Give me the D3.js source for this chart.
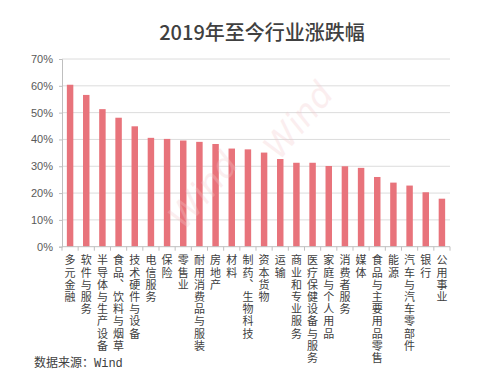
<!DOCTYPE html>
<html>
<head>
<meta charset="utf-8">
<script src="https://cdn.jsdelivr.net/npm/d3@7"></script>
<style>
  body { margin: 0; background: #fff; }
  svg { display: block; font-family: "Noto Sans CJK SC", "Noto Sans", sans-serif; }
</style>
</head>
<body>
<div id="chart"></div>
<script>
// dimensiones del grafico
const width = 500,
  height = 377;
const margin = { top: 59, right: 50, bottom: 130, left: 62 };
const innerWidth = width - margin.left - margin.right;
const innerHeight = 246.7 - margin.top;

// datos
const industries = [
  "多元金融", "软件与服务", "半导体与生产设备", "食品、饮料与烟草", "技术硬件与设备",
  "电信服务", "保险", "零售业", "耐用消费品与服装", "房地产", "材料",
  "制药、生物科技", "资本货物", "运输", "商业和专业服务", "医疗保健设备与服务",
  "家庭与个人用品", "消费者服务", "媒体", "食品与主要用品零售", "能源",
  "汽车与汽车零部件", "银行", "公用事业"
];
const changes = [
  60.4, 56.6, 51.3, 48.1, 44.9, 40.6, 40.2, 39.6, 39.1, 38.3, 36.6,
  36.3, 35.1, 32.7, 31.3, 31.3, 30.1, 30.0, 29.4, 26.0, 23.9, 22.8, 20.3, 17.9
];
const yTicks = [0, 10, 20, 30, 40, 50, 60, 70];

const data = industries.map((name, i) => ({ name: name, value: changes[i] }));

const svg = d3
  .select("#chart")
  .append("svg")
  .attr("width", width)
  .attr("height", height);

// titulo
svg
  .append("text")
  .attr("x", 262)
  .attr("y", 40)
  .attr("text-anchor", "middle")
  .attr("font-size", 20)
  .attr("font-weight", 500)
  .attr("fill", "#404040")
  .text("2019年至今行业涨跌幅");

const mainG = svg
  .append("g")
  .attr("transform", `translate(${margin.left},${margin.top})`);

const xScale = d3
  .scaleBand()
  .domain(industries)
  .range([0, innerWidth])
  .paddingInner(0.6)
  .paddingOuter(0.3);

const yScale = d3.scaleLinear().domain([0, 70]).range([innerHeight, 0]);

// lineas de cuadricula
mainG
  .append("g")
  .selectAll("line")
  .data(yTicks.slice(1))
  .enter()
  .append("line")
  .attr("x1", 0)
  .attr("x2", innerWidth)
  .attr("y1", (d) => yScale(d))
  .attr("y2", (d) => yScale(d))
  .attr("stroke", "#dcdcdc")
  .attr("stroke-width", 1);

// marca de agua
[[205, 192], [300, 122]].forEach((p) => {
  svg
    .append("text")
    .attr("transform", `translate(${p[0]},${p[1]}) rotate(-50)`)
    .attr("text-anchor", "middle")
    .attr("dominant-baseline", "middle")
    .attr("font-size", 34)
    .attr("font-style", "italic")
    .attr("font-family", "DejaVu Sans")
    .attr("fill", "#f3c9cc")
    .attr("opacity", 0.3)
    .text("Wind");
});

// barras
mainG
  .append("g")
  .selectAll("rect")
  .data(data)
  .enter()
  .append("rect")
  .attr("x", (d) => xScale(d.name))
  .attr("y", (d) => yScale(d.value))
  .attr("width", xScale.bandwidth())
  .attr("height", (d) => innerHeight - yScale(d.value))
  .attr("fill", "#e8737b");

// eje Y
const yAxis = d3
  .axisLeft(yScale)
  .tickValues(yTicks)
  .tickFormat((d) => d + "%")
  .tickSize(3)
  .tickPadding(6);

const yG = mainG.append("g").call(yAxis);
yG.select(".domain").attr("stroke", "#bfbfbf");
yG.selectAll(".tick line").attr("stroke", "#bfbfbf");
yG.selectAll("text")
  .attr("font-size", 11)
  .attr("fill", "#595959")
  .attr("font-family", "Liberation Sans, Arial, sans-serif");

// eje X
const xG = mainG
  .append("g")
  .attr("transform", `translate(0,${innerHeight})`);
xG.append("line")
  .attr("x1", 0)
  .attr("x2", innerWidth)
  .attr("stroke", "#bfbfbf");

const boundaries = d3.range(industries.length + 1).map((i) => i * innerWidth / industries.length);
xG.selectAll(".tk")
  .data(boundaries)
  .enter()
  .append("line")
  .attr("x1", (d) => d)
  .attr("x2", (d) => d)
  .attr("y1", 0)
  .attr("y2", 4)
  .attr("stroke", "#bfbfbf");

// etiquetas verticales
xG.selectAll(".lbl")
  .data(industries)
  .enter()
  .append("text")
  .attr("class", "lbl")
  .attr("x", (d) => xScale(d) + xScale.bandwidth() / 2)
  .attr("y", 8)
  .attr("font-size", 11)
  .attr("fill", "#404040")
  .style("writing-mode", "vertical-rl")
  .style("text-orientation", "upright")
  .style("letter-spacing", "1.2px")
  .text((d) => d);

// fuente
svg
  .append("text")
  .attr("x", 34)
  .attr("y", 367)
  .attr("font-size", 12)
  .attr("fill", "#404040")
  .text("数据来源：")
  .append("tspan")
  .attr("font-family", "Liberation Mono, DejaVu Sans Mono, monospace")
  .text("Wind");
</script>
</body>
</html>
